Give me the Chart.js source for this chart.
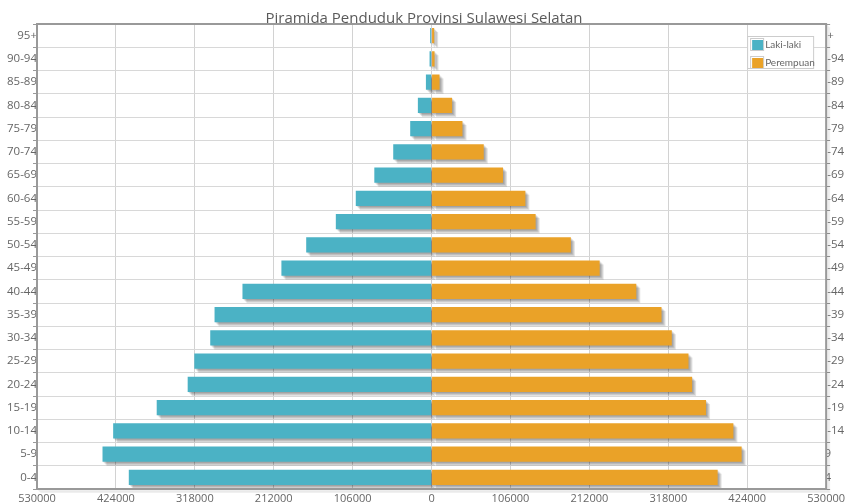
<!DOCTYPE html>
<html>
<head>
<meta charset="utf-8">
<title>Piramida Penduduk Provinsi Sulawesi Selatan</title>
<script src="https://cdn.jsdelivr.net/npm/chart.js@4/dist/chart.umd.min.js"></script>
<style>
  html, body { margin: 0; padding: 0; background: #ffffff; }
  canvas { display: block; }
</style>
</head>
<body>
<canvas id="pyramid" width="848" height="502"></canvas>
<script>
// Age groups, youngest first (drawn bottom-up)
const ageGroups = ['0-4', '5-9', '10-14', '15-19', '20-24', '25-29', '30-34', '35-39',
  '40-44', '45-49', '50-54', '55-59', '60-64', '65-69', '70-74', '75-79',
  '80-84', '85-89', '90-94', '95+'];

// Population per age group
const maleCounts = [406700, 442000, 427700, 369200, 327600, 318700, 297300, 291500,
  254000, 201700, 168400, 128600, 101800, 76900, 51500, 28700,
  18400, 7600, 2700, 1900];
const femaleCounts = [384300, 416500, 405400, 368700, 350000, 345100, 322700, 308900,
  275000, 225800, 187100, 139800, 126000, 96000, 70100, 41500,
  27600, 10700, 4000, 3500];

const seriesNames = ['Laki-laki', 'Perempuan'];
const seriesColors = ['#4bb2c5', '#eaa228'];
const chartTitle = 'Piramida Penduduk Provinsi Sulawesi Selatan';
const axisLimit = 530000;
const axisStep = 106000;

const FONT = '"Open Sans", "DejaVu Sans", sans-serif';
const LEGEND_FONT = 'Lato, "Open Sans", sans-serif';
const TEXT_COLOR = '#666666';

// Soft stepped drop shadow behind every bar
const barShadow = {
  id: 'barShadow',
  beforeDatasetsDraw(chart) {
    const ctx = chart.ctx;
    ctx.save();
    chart.data.datasets.forEach((ds, i) => {
      const meta = chart.getDatasetMeta(i);
      if (meta.hidden) return;
      meta.data.forEach(bar => {
        const p = bar.getProps(['x', 'y', 'base', 'height'], true);
        const left = Math.min(p.x, p.base);
        const w = Math.abs(p.x - p.base);
        const top = p.y - p.height / 2;
        for (let j = 1; j <= 4; j++) {
          ctx.fillStyle = 'rgba(0,0,0,0.11)';
          ctx.fillRect(left + j, top + j, w, p.height);
        }
      });
    });
    ctx.restore();
  }
};

// Plot frame with a light shadow on its right and bottom edges
const plotFrame = {
  id: 'plotFrame',
  afterDatasetsDraw(chart) {
    const { ctx, chartArea: a } = chart;
    ctx.save();
    for (let j = 1; j <= 3; j++) {
      ctx.strokeStyle = 'rgba(0,0,0,0.06)';
      ctx.lineWidth = 1.5;
      ctx.beginPath();
      ctx.moveTo(a.left + j * 1.1, a.bottom + j * 1.1);
      ctx.lineTo(a.right + j * 1.1, a.bottom + j * 1.1);
      ctx.lineTo(a.right + j * 1.1, a.top + j * 1.1);
      ctx.stroke();
    }
    ctx.strokeStyle = '#999999';
    ctx.lineWidth = 2;
    ctx.strokeRect(a.left, a.top, a.right - a.left, a.bottom - a.top);
    ctx.restore();
  }
};

// Age labels on the right side, partly tucked behind the plot edge
const rightLabels = {
  id: 'rightLabels',
  afterDraw(chart) {
    const { ctx, chartArea: a, width, height } = chart;
    const yScale = chart.scales.y;
    ctx.save();
    ctx.beginPath();
    ctx.rect(a.right + 1, 0, width - a.right, height);
    ctx.clip();
    ctx.font = '11.5px ' + FONT;
    ctx.fillStyle = TEXT_COLOR;
    ctx.textAlign = 'left';
    ctx.textBaseline = 'middle';
    ageGroups.forEach((g, i) => {
      ctx.fillText(g, a.right - 12, yScale.getPixelForValue(i));
    });
    ctx.restore();
  }
};

// Boxed legend in the upper right corner of the plot
const boxLegend = {
  id: 'boxLegend',
  afterDraw(chart) {
    const { ctx, chartArea: a } = chart;
    const bx = a.right - 78.5, by = a.top + 12.5, bw = 66, bh = 32;
    ctx.save();
    ctx.fillStyle = '#ffffff';
    ctx.fillRect(bx, by, bw, bh);
    ctx.strokeStyle = '#cccccc';
    ctx.lineWidth = 1;
    ctx.strokeRect(bx, by, bw, bh);
    ctx.font = '10px ' + LEGEND_FONT;
    ctx.textAlign = 'left';
    ctx.textBaseline = 'middle';
    chart.data.datasets.forEach((ds, i) => {
      const sy = by + 2 + i * 18;
      ctx.strokeStyle = '#cccccc';
      ctx.strokeRect(bx + 3, sy, 13, 12);
      ctx.fillStyle = ds.backgroundColor;
      ctx.fillRect(bx + 4.5, sy + 1.5, 11, 10);
      ctx.fillStyle = TEXT_COLOR;
      ctx.fillText(ds.label, bx + 17.5, sy + 6.5);
    });
    ctx.restore();
  }
};

new Chart(document.getElementById('pyramid'), {
  type: 'bar',
  data: {
    labels: ageGroups,
    datasets: [
      {
        label: seriesNames[0],
        data: maleCounts.map(v => -v),
        backgroundColor: seriesColors[0],
        borderWidth: 0,
        grouped: false,
        barPercentage: 0.66,
        categoryPercentage: 1
      },
      {
        label: seriesNames[1],
        data: femaleCounts,
        backgroundColor: seriesColors[1],
        borderWidth: 0,
        grouped: false,
        barPercentage: 0.66,
        categoryPercentage: 1
      }
    ]
  },
  options: {
    indexAxis: 'y',
    responsive: false,
    animation: false,
    layout: { padding: 0 },
    plugins: {
      legend: { display: false },
      tooltip: { enabled: false },
      title: {
        display: true,
        text: chartTitle,
        color: '#5a5a5a',
        font: { family: FONT, size: 15, weight: 'normal', lineHeight: 1.2 },
        padding: { top: 10, bottom: -4 }
      }
    },
    scales: {
      x: {
        type: 'linear',
        min: -axisLimit,
        max: axisLimit,
        ticks: {
          stepSize: axisStep,
          autoSkip: false,
          maxRotation: 0,
          padding: 3,
          color: TEXT_COLOR,
          font: { family: FONT, size: 11 },
          callback: v => String(Math.abs(v))
        },
        grid: { color: '#d2d2d2', lineWidth: 1, drawTicks: false },
        border: { display: false },
        afterFit(scale) { scale.height = 13; }
      },
      y: {
        type: 'category',
        position: 'left',
        reverse: true,
        offset: true,
        ticks: {
          autoSkip: false,
          padding: -4,
          color: TEXT_COLOR,
          font: { family: FONT, size: 11.5 }
        },
        grid: { offset: true, color: '#d8d8d8', tickColor: '#999999', tickLength: 4 },
        border: { display: false },
        afterFit(scale) { scale.width = 37; }
      },
      y2: {
        type: 'category',
        position: 'right',
        reverse: true,
        offset: true,
        ticks: { display: false },
        grid: { offset: true, drawOnChartArea: false, tickColor: '#999999', tickLength: 4 },
        border: { display: false },
        afterFit(scale) { scale.width = 20; }
      }
    }
  },
  plugins: [barShadow, plotFrame, rightLabels, boxLegend]
});
</script>
</body>
</html>
